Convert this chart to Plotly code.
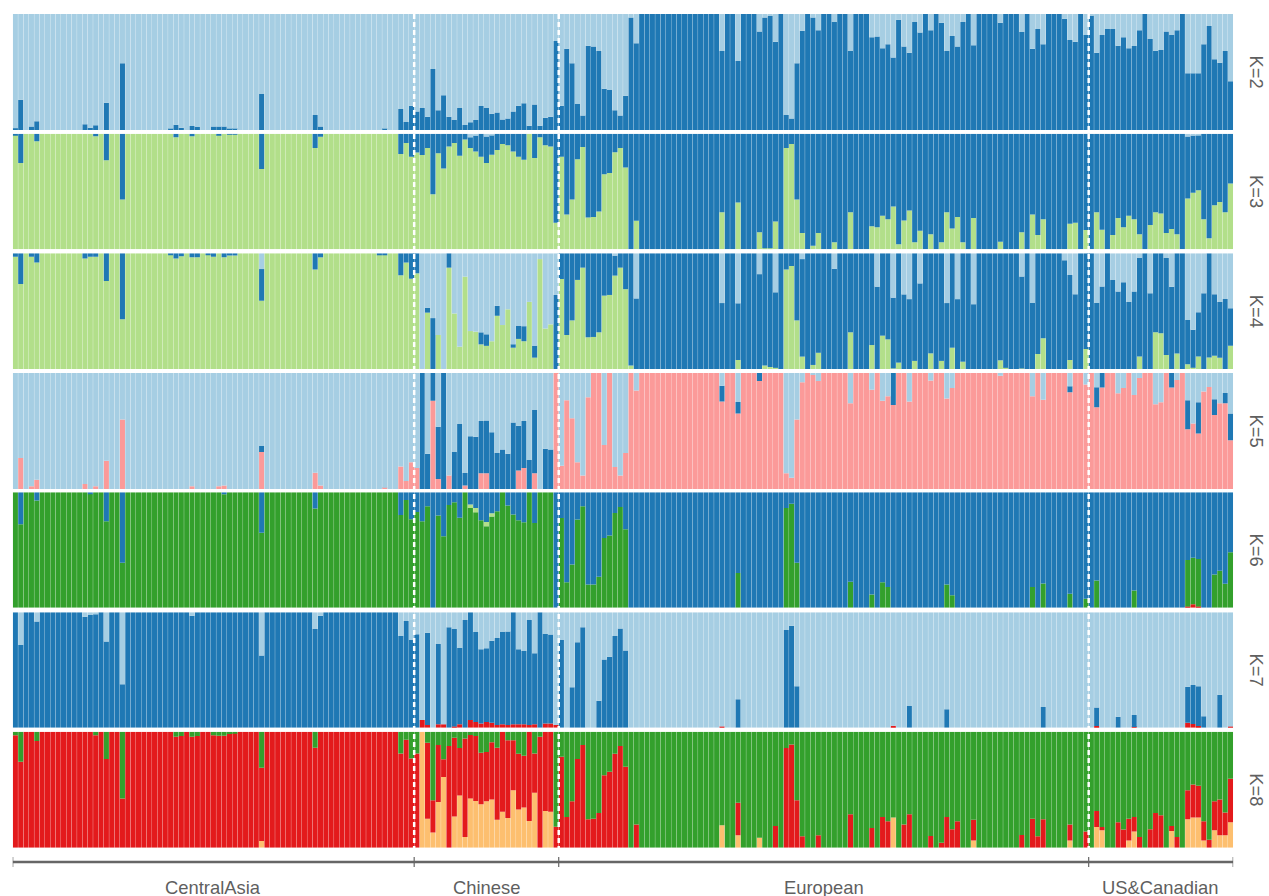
import plotly.graph_objects as go

GROUPS = ["CentralAsia", "Chinese", "European", "US&Canadian"]
GROUP_SIZES = [75, 27, 99, 27]
K_LABELS = ["K=2", "K=3", "K=4", "K=5", "K=6", "K=7", "K=8"]

LIGHT = "#A6CEE3"; BLUE = "#1F78B4"; LGREEN = "#B2DF8A"; GREEN = "#33A02C"
PINK = "#FB9A99"; RED = "#E31A1C"; ORANGE = "#FDBF6F"

# ---------- K=2 ----------
K2_blue = ([1.5,26,0,3,7.5]+[0]*8+[5,2,4,0,23.5,0,0,57.5]+[0]*8+[1,4.5,2,0,3.5,2.5,0,0,3,3,3,1,1]+[0]*4+[31]+[0]*9+[13,3]+[0]*11+[1,0,0,18,7,21]
  + [16,19,11.5,52.5,17,30,11.5,8.6,19,4.3,6.6,8.6,20.7,19,14,15,9,10,16,21,23,3.7,22,3.7,10.6,11.5,76.7]
  + [21,70,57.5,22.4,12.4,72.7,72,68,35.6,34.5,17,12.4,29.6,97,74.7]+[100]*15+[68,100,100,59.5,100,100,100,85,97,98.5,76,100,13,10,57.5,85.6,100,97,86,100,100,93,100,100,68,100,100,100,80,80.5,70.4,74,62.6,95,72,66.7,93,84,100,86,100,92.5,68,81,72,93,100,73,100,100,100,100,92.5,100,100,100,84.5,100,70,87,74,100,100,100,96,77.6,76,100,82]
  + [99,66.7,82,87,87,72.7,80,70.4,72.4,86,100,78.4,68.4,69,85,82,86,100,49,49,49,74,89.7,61,58,68,42])

# ---------- K=3 ----------
K3_lgreen = ([99,74.6,100,100,93.4]+[100]*10+[97.7,100,77,100,100,43]+[100]*9+[97,100,100,97.7]+[100]*4+[99,100,99.5,99.5]+[100]*4+[69.4]+[100]*9+[87.6,97.4]+[100]*14+[82.4,92,80]
  + [83.8,81.5,87.6,47.7,83,70,89,92,81,95,87.6,84.7,80,74.6,81.8,86,91,90,84.7,80,77.5,100,79,97,90,89,23]
  + [80,30,43,78,88.4,27.5,28,32.7,65,66,84,87.6,70.8,0,24.6]+[0]*15+[32,0,0,40.5,0,0,0,14.7,1,1,24,0,87.6,91,43,14,0,3,14,0,0,6,0,0,32,0,0,0,20,19,29,26,37,4.3,25,33.5,6,16,0,13,0,6,32,18,28,6,0,27,0,0,0,0,6.6,0,0,0,14.7,0,30,12.4,26,0,0,0,0,22,23,0,16.8]
  + [0,32,17,0,12.4,27,19,29,26,13,0,21,32,31,14,17.6,13,0,44,49,51,26,9.5,38,41,32,57])
K3_light = [0]*85+[3,1.5,0,2.5,1]+[0]*129+[2.5,1.5,1]+[0]*6

# ---------- K=4 ----------
K4_lgreen = ([97,73.5,100,97,92]+[100]*8+[95.5,97,97,100,76,100,100,43]+[100]*8+[98.5,95.5,97.5,100,96.5,96.5,100,99,97,100,96.5,98,98]+[100]*4+[59]+[100]*9+[86,96.5]+[100]*10+[98.5,98.5,100,100,81,92,78]
  + [82.7,0,48.7,0,29.4,0,87.6,48,19.3,79.8,32.8,32.3,21.3,20,24,46,38,51.6,18.4,26,24,58,9.8,95,35,38.6,0]
  + [77.8,29.4,42,77,87.6,27.4,27.7,31.7,63.4,64,80.7,87.6,69,3,0]+[0]*15+[0,0,0,7.8,0,0,0,0,3,1.7,1,0,86,89,42,10.7,0,3.5,14]+[0]*5+[31.7,0,0,0,20.7,0,28.8,25.6,0.5,5.5,0,0,7,0,0,13.5,0,7,0,18.4,0,6.3]+[0]*6+[7.5,1,0,0,0.5,0,0,13,26.5,0,0,0,0,7.8,0,0,17.3]
  + [0]*9+[10.7,0,0,31.7,30.8,12,0,13.5,0,4,1,10.7,0,10,11.5,9.8,0,20])
K4_light = ([0]*46+[13.6]+[0]*28
  + [0,100,47,56,70.6,100,0,52,80.7,20.2,67.2,67.7,68.3,70,76,45.4,62,48.4,78.6,62.5,63,42,79.8,5,65,61.4,36]
  + [0]*10+[2,0,0,0,39]+[0]*15+[43,0,0,43.2,0,0,0,18,0,0,33.7,0,0,0,0,5]+[0]*5+[13.5]+[0]*7+[28.8,0,0,38.3,0,35.5,39.6,0,26,0,0,0,0,43,0,39.6,0,0,44]+[0]*8+[20,0,43,0,0,0,0,0,6,18.7,35.5,0,0]
  + [0,43,28.8,0,23,33,25,42,33,4,0,34.6,0,0,4,29,0,0,57.6,66,51,34.6,0,35.5,42,39.6,47.5])

# ---------- K=5 ----------
K5_pink = ([0,26.7,0,2.3,8]+[0]*8+[4.3,0,2.3,0,24.4,0,0,60]+[0]*12+[2.3]+[0]*4+[2.3,3]+[0]*6+[32]+[0]*9+[14,3]+[0]*11+[1,0,0,19.5,7,23]
  + [18,0,0,76,8.7,0,11.6,0,0,3,0,0,13.6,13.6,0,0,0,0,0,16,18,0,13.6,0,0,0,100]
  + [20,76.5,61,23,11.6,79,100,100,38,100,19,11.6,31,100,85]+[100]*15+[75.4,100,100,65,100,100,100,93,100,100,100,100,13.6,9.6,60,92,100,98.5,93]+[100]*5+[74,100,100,100,85.5,100,76,80,72.5,100,100,75.4,100,100,100,93.6,100,100,78,87]+[100]*8+[97.7]+[100]*5+[80,100,77,100,100,100,100,83.5,100,100,90]
  + [100,70.4,87.5,100,100,82.6,87,100,81,95.7,100,100,73,74.8,100,87.5,94,100,51.6,56.5,47.8,84,88,63.8,74,74,42])
K5_blue = ([0]*46+[5]+[0]*28
  + [0,100,30.4,24,45,100,0,32,56,10.7,45.5,45,45,45.5,49,31,34,30.4,57.4,38.5,40.6,25,54.5,0,34.8,34,0]
  + [0]*30+[13.6,0,0,10,0,0,0,7]+[0]*24+[27.5]+[0]*32+[5,0,0,0]
  + [0,17.4,12.5]+[0]*12+[12.5,0,0,25,0,27,0,0,13.6,0,8.7,23])

# ---------- K=6 ----------
K6_green = ([100,72.3,100,100,93]+[100]*9+[98.5,100,100,75,100,100,39]+[100]*18+[98.3]+[100]*6+[65]+[100]*9+[86]+[100]*15+[80.4,93.4,76.6]
  + [83,75,88,0,79.8,62,89,91.4,78,100,86.5,82.7,75.8,70.6,79,83.6,100,88.5,80.7,75.8,74,100,73.5,100,100,100,0]
  + [77.8,22,37.5,76.4,88,20,20,26.8,60.5,62.5,82,87.3,68,0,0]+[0]*15+[0,0,0,30]+[0]*8+[86.5,90,39]+[0]*9+[22.5,0,0,0,11.5,0,22,18]+[0]*10+[20,10.7]+[0]*14+[18,0,21,0,0,0,0,12,0,0,7.8]
  + [0,23.6]+[0]*6+[15]+[0]*9+[40.3,40.3,41.2,0,0,28.8,32,20.7,48])
K6_lgreen = [0]*85+[2.9,3.7,0,3.7,2.9]+[0]*138
K6_red = [0]*219+[1,3,1]+[0]*6

# ---------- K=7 ----------
K7_red = ([0]*76+[6.6,2.3,0,3,3,0,1,3,0,6.6,5,3.7,5,4.3,2.3,3,2.3,3,3,3,2.3,3,0,3.7,3.7,2.3]
  + [0]*30+[1]+[0]*31+[1.7]+[0]*36
  + [0,1.5]+[0]*6+[0.5]+[0]*9+[4.3,3.2,1.4,0,0,0,0,0,1])
K7_blue = ([100,71.7,100,100,92]+[100]*8+[96.2,97.7,98.3,100,74.6,100,100,37.6]+[100]*12+[97]+[100]*12+[62.5]+[100]*9+[85.6,97]+[100]*14+[79.5,92.5,76]
  + [81,0,80,0,69.5,0,87,84.5,66,93.4,93.4,78,64.3,63.8,71,75.4,80,81,97,65,63.5,91,61.5,100,77.5,77,0]
  + [76,0,35,74,87,0,0,23.4,59,61.5,79.5,86,66.8,0,0]+[0]*18+[24.6]+[0]*8+[84.7,88.4,36]+[0]*20+[18.8]+[0]*6+[16]+[0]*17+[18]+[0]*8
  + [0,16.1,0,0,0,9.5,0,0,10.4]+[0]*9+[31.2,33.8,34.6,10,0,0,28.6,0,0])

# ---------- K=8 ----------
K8_red = ([97,74,100,100,92]+[100]*10+[97,100,76.5,100,100,42.5]+[100]*9+[95.7,96.3,100,95.7,96.3,100,100,97,96.5,96.5,98,99]+[100]*4+[63.3]+[100]*9+[86.2]+[100]*15+[81.3,93,77]
  + [81.3,0,65.4,28,49,15.3,87.6,67.7,41,85,54.8,56,44.4,42.6,49.3,62,69,67,43,48,44.7,77,34,95.7,68.3,69,18]
  + [78.4,26.5,40,76.4,88.5,24.5,25,30,62.5,65.4,81,87.6,69.7,0,20]+[0]*15+[0,0,0,28,0,0,0,0,0,0,18.7,0,86,89,41,9.8,0,0,10.7]+[0]*5+[28.8,0,0,0,17,0,26.5,22.8,0,0,20,28.8,0,0,0,10,0,4.3,26.5,15.9,22.8,0,0,17.9]+[0]*8+[11,0,25,9.8,24.5,0,0,0,0,13.8,0,0,14]
  + [0,13.8,2.9,0,0,22,15.6,18.7,12.4,9.2,0,15.9,30,28,0,4.3,9.2,0,25,28.5,27.4,16.4,6.9,25,30.8,19.6,37.5])
K8_orange = ([0]*46+[5.7]+[0]*28
  + [0,100,25,13,39.5,61,0,27,45,9.2,42.4,40.3,37.5,40,41.5,24.2,31,25.6,49.6,33,34.6,23,47.3,0,31.7,31,0]
  + [0]*30+[19.3,0,0,10.7,0,0,0,8.6]+[0]*24+[26]+[0]*14+[6.3]+[0]*17+[6.3,0,0,0]
  + [0,17.9,15,0,0,0,0,6.3,14]+[0]*6+[14.4,0,0,24.5,26,26,6.3,0,15,10.7,10.7,22])


def rest(*series):
    """Each bar sums to 100 %: the last component is what the others leave."""
    return [max(0.0, 100 - sum(v)) for v in zip(*series)]


K2_light = rest(K2_blue)
K3_blue = rest(K3_lgreen, K3_light)
K4_blue = rest(K4_lgreen, K4_light)
K5_light = rest(K5_pink, K5_blue)
K6_blue = rest(K6_red, K6_green, K6_lgreen)
K7_light = rest(K7_red, K7_blue)
K8_green = rest(K8_orange, K8_red)

PANELS = [
    [(K2_blue, BLUE), (K2_light, LIGHT)],
    [(K3_lgreen, LGREEN), (K3_blue, BLUE), (K3_light, LIGHT)],
    [(K4_lgreen, LGREEN), (K4_blue, BLUE), (K4_light, LIGHT)],
    [(K5_pink, PINK), (K5_blue, BLUE), (K5_light, LIGHT)],
    [(K6_red, RED), (K6_green, GREEN), (K6_lgreen, LGREEN), (K6_blue, BLUE)],
    [(K7_red, RED), (K7_blue, BLUE), (K7_light, LIGHT)],
    [(K8_orange, ORANGE), (K8_red, RED), (K8_green, GREEN)],
]

W, H = 1269, 896
TOPS = [14, 133.7, 253.3, 373, 492.3, 612.3, 731.7]
BOTTOMS = [130, 249.3, 369, 489, 607.7, 727.7, 847.7]
X0, X1 = 12.7, 1233.2
N = sum(GROUP_SIZES)
xs = list(range(N))

fig = go.Figure()
layout_axes = {}
for k, stack in enumerate(PANELS):
    name = "y" if k == 0 else f"y{k+1}"
    key = "yaxis" if k == 0 else f"yaxis{k+1}"
    layout_axes[key] = dict(domain=[1 - BOTTOMS[k]/H, 1 - TOPS[k]/H], range=[0, 100],
                            visible=False, fixedrange=True, anchor="x")
    for vals, col in stack:
        assert len(vals) == N, (k, col, len(vals))
        fig.add_trace(go.Bar(x=xs, y=vals, marker=dict(color=col, line=dict(width=0)),
                             xaxis="x", yaxis=name, showlegend=False, hoverinfo="skip"))

edges = [-0.5]
for s in GROUP_SIZES:
    edges.append(edges[-1] + s)

shapes = []
for e in edges[1:-1]:
    shapes.append(dict(type="line", xref="x", yref="paper", x0=e, x1=e, y0=1 - 14/H, y1=1 - 848/H,
                       line=dict(color="white", width=2.5, dash="5px,3px"), layer="above"))
shapes.append(dict(type="line", xref="x", yref="paper", x0=edges[0], x1=edges[-1], y0=1 - 862/H, y1=1 - 862/H,
                   line=dict(color="#666666", width=2.5)))
for e in edges:
    shapes.append(dict(type="line", xref="x", yref="paper", x0=e, x1=e, y0=1 - 857/H, y1=1 - 867/H,
                       line=dict(color="#666666", width=1.2)))

TEXT = dict(family="Liberation Sans, Arial, sans-serif", size=18.4, color="#5f5f5f")
annotations = []
for g, a, b in zip(GROUPS, edges[:-1], edges[1:]):
    annotations.append(dict(text=g, x=(a + b) / 2, xref="x", y=1 - 886.5/H, yref="paper", height=18,
                            showarrow=False, xanchor="center", yanchor="middle", valign="middle", font=TEXT))
for lab, t, b in zip(K_LABELS, TOPS, BOTTOMS):
    annotations.append(dict(text=lab, x=1256.5/W, xref="paper", y=1 - (t + b)/2/H, yref="paper",
                            showarrow=False, xanchor="center", yanchor="middle", textangle=90, font=TEXT))

fig.update_layout(
    width=W, height=H, margin=dict(l=0, r=0, t=0, b=0),
    paper_bgcolor="white", plot_bgcolor="white",
    barmode="stack", bargap=0.05,
    xaxis=dict(domain=[X0/W, X1/W], range=[-0.5, N - 0.5], visible=False, fixedrange=True),
    shapes=shapes, annotations=annotations, **layout_axes,
)
POST = """document.body.style.margin='0';document.body.style.overflow='hidden';
document.querySelectorAll('.bars path, .barlayer path').forEach(function(p){p.style.shapeRendering='geometricPrecision';});"""
fig.write_html("out.html", post_script=POST, config={"displayModeBar": False})
